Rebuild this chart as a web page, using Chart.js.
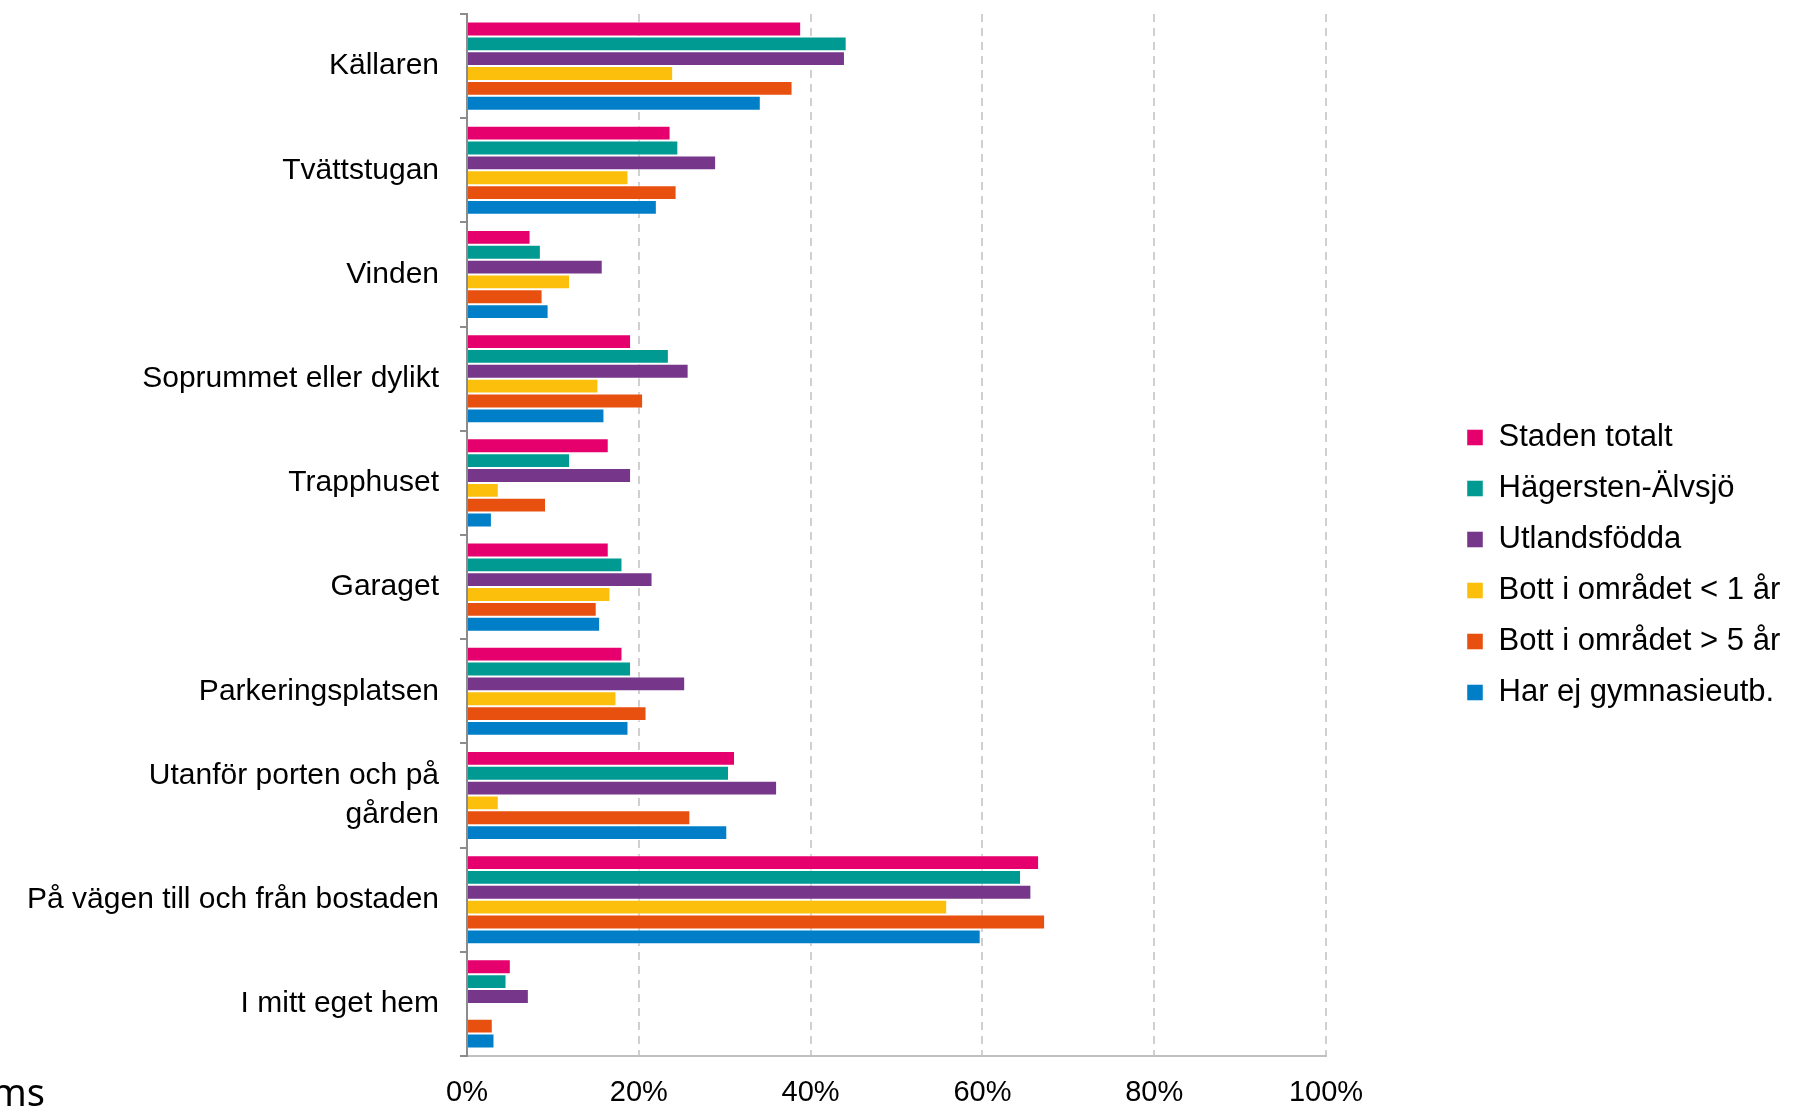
<!DOCTYPE html>
<html>
<head>
<meta charset="utf-8">
<script src="https://cdn.jsdelivr.net/npm/chart.js@4"></script>
<style>
  body { margin: 0; background: #fff; }
  #wrap { width: 1796px; height: 1107px; position: relative; }
</style>
</head>
<body>
<div id="wrap"><canvas id="placesChart"></canvas></div>
<script>
// Categories (places) and the values of each group, in percent
const places = [
  'Källaren',
  'Tvättstugan',
  'Vinden',
  'Soprummet eller dylikt',
  'Trapphuset',
  'Garaget',
  'Parkeringsplatsen',
  ['Utanför porten och på', 'gården'],
  'På vägen till och från bostaden',
  'I mitt eget hem'
];
const stadenTotalt   = [38.9, 23.7, 7.4, 19.1, 16.5, 16.5, 18.1, 31.2, 66.6, 5.1];
const hagerstenAlvsjo = [44.2, 24.6, 8.6, 23.5, 12.0, 18.1, 19.1, 30.5, 64.5, 4.6];
const utlandsfodda   = [44.0, 29.0, 15.8, 25.8, 19.1, 21.6, 25.4, 36.1, 65.7, 7.2];
const bottUnder1     = [24.0, 18.8, 12.0, 15.3, 3.7, 16.7, 17.4, 3.7, 55.9, 0];
const bottOver5      = [37.9, 24.4, 8.8, 20.5, 9.2, 15.1, 20.9, 26.0, 67.3, 3.0];
const ejGymnasie     = [34.2, 22.1, 9.5, 16.0, 2.9, 15.5, 18.8, 30.3, 59.8, 3.2];
const xTicks = [0, 20, 40, 60, 80, 100];

const FONT = '"Liberation Sans", Arial, sans-serif';
const LEGEND_LEFT = 1447;
const LEGEND_DY = 5;

// move the legend over to the right, Excel style
const legendMover = {
  id: 'legendMover',
  afterLayout(chart) {
    const lg = chart.legend;
    const dx = LEGEND_LEFT - lg.left;
    lg.left += dx; lg.right += dx;
    lg.top += LEGEND_DY; lg.bottom += LEGEND_DY;
  }
};

// cut-off source text in the bottom left corner
const cornerText = {
  id: 'cornerText',
  afterDraw(chart) {
    const ctx = chart.ctx;
    ctx.save();
    ctx.font = '38px "Noto Sans", sans-serif';
    ctx.fillStyle = '#000';
    ctx.textAlign = 'right';
    ctx.textBaseline = 'middle';
    ctx.fillText('ms', 45, 1095);
    ctx.restore();
  }
};

function series(label, data, color) {
  return {
    label: label,
    data: data,
    backgroundColor: color,
    borderColor: 'rgba(255,255,255,0.45)',
    borderWidth: 1,
    categoryPercentage: 0.855,
    barPercentage: 1
  };
}

const ctx = document.getElementById('placesChart').getContext('2d');
const placesChart = new Chart(ctx, {
  type: 'bar',
  data: {
    labels: places,
    datasets: [
      series('Staden totalt', stadenTotalt, '#E5006D'),
      series('Hägersten-Älvsjö', hagerstenAlvsjo, '#009A93'),
      series('Utlandsfödda', utlandsfodda, '#763689'),
      series('Bott i området < 1 år', bottUnder1, '#FCBF0B'),
      series('Bott i området > 5 år', bottOver5, '#E8500F'),
      series('Har ej gymnasieutb.', ejGymnasie, '#007FC8')
    ]
  },
  options: {
    indexAxis: 'y',
    responsive: true,
    maintainAspectRatio: false,
    animation: false,
    layout: {
      padding: { top: 14, bottom: 1, left: 0, right: 0 }
    },
    scales: {
      x: {
        min: 0,
        max: 100,
        afterBuildTicks: s => { s.ticks = xTicks.map(v => ({ value: v })); },
        afterFit: s => { s.paddingRight = 470; s.height = 50; },
        ticks: {
          callback: v => v + '%',
          color: '#000',
          padding: 22,
          font: { family: FONT, size: 29, lineHeight: 1 }
        },
        grid: {
          color: c => (c.tick && c.tick.value === 0) ? 'rgba(0,0,0,0)' : '#d0d0d0',
          lineWidth: 2,
          drawTicks: false
        },
        border: {
          display: true,
          color: '#c0c0c0',
          width: 2,
          dash: [8, 6]
        }
      },
      y: {
        afterFit: s => { s.width = 467; s.paddingTop = 0; s.paddingBottom = 0; },
        ticks: {
          color: '#000',
          padding: 21,
          font: { family: FONT, size: 30, lineHeight: 1.3 }
        },
        grid: {
          drawOnChartArea: false,
          drawTicks: true,
          tickLength: 7,
          color: '#8c8c8c',
          lineWidth: 2
        },
        border: {
          display: true,
          color: '#8c8c8c',
          width: 2
        }
      }
    },
    plugins: {
      legend: {
        position: 'right',
        labels: {
          boxWidth: 16,
          boxHeight: 16,
          padding: 20,
          color: '#000',
          font: { family: FONT, size: 31 }
        }
      },
      tooltip: { enabled: false }
    }
  },
  plugins: [legendMover, cornerText]
});
</script>
</body>
</html>
